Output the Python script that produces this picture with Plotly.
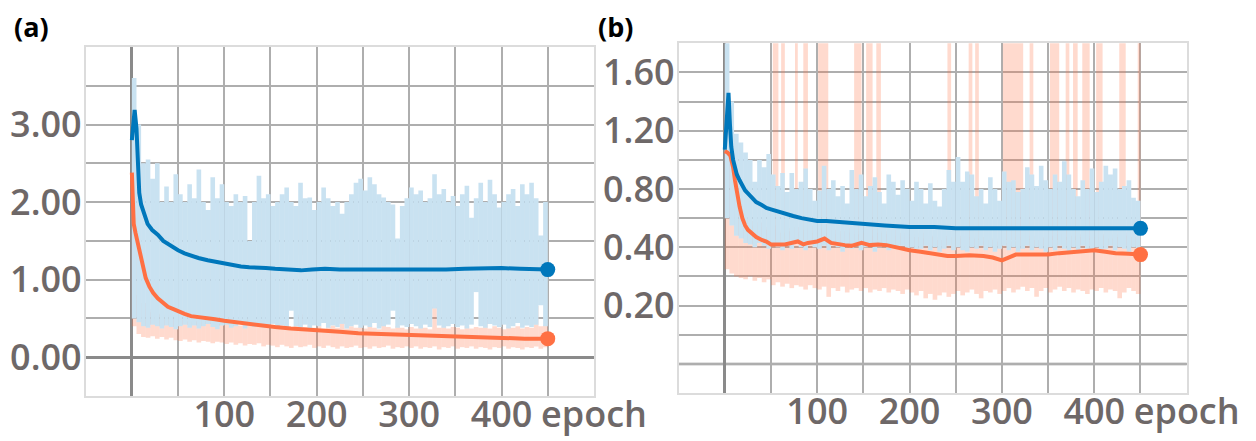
import plotly.graph_objects as go

# ---------------- data ----------------
BIN = 5
raw_epochs = list(range(0, 450, BIN))          # start epoch of each raw-value bin

# panel (a) raw envelopes
blue_a_hi = [3.60,3.00,2.50,2.55,2.30,2.50,2.00,2.20,2.00,2.36,
             2.10,2.00,2.23,2.05,2.42,2.00,1.90,2.32,2.05,2.23,
             2.00,1.95,2.10,2.00,2.08,1.50,2.00,2.34,2.05,2.10,
             1.95,2.00,2.10,2.19,2.00,1.95,2.25,2.05,2.06,1.90,
             2.00,2.19,2.05,1.95,2.00,1.85,2.00,2.10,2.25,2.30,
             2.15,2.32,2.23,2.10,2.06,2.00,1.97,1.53,1.95,2.05,
             2.19,2.10,2.15,2.00,2.05,2.36,2.10,2.17,2.00,2.08,
             1.95,2.10,2.21,1.80,2.05,2.25,2.00,2.29,2.10,1.93,
             2.00,2.10,2.17,1.95,2.23,2.10,2.25,2.05,1.57,2.00]
blue_a_lo = [0.50,0.45,0.40,0.38,0.42,0.40,0.37,0.41,0.39,0.36,
             0.40,0.42,0.38,0.41,0.37,0.40,0.43,0.39,0.36,0.41,
             0.42,0.38,0.40,0.44,0.37,0.41,0.39,0.42,0.38,0.40,
             0.43,0.37,0.41,0.39,0.60,0.40,0.38,0.42,0.37,0.41,
             0.40,0.44,0.38,0.41,0.39,0.43,0.37,0.40,0.42,0.38,
             0.41,0.39,0.44,0.37,0.40,0.42,0.60,0.38,0.41,0.39,
             0.43,0.40,0.37,0.42,0.39,0.63,0.41,0.38,0.40,0.43,
             0.39,0.41,0.37,0.42,0.84,0.40,0.38,0.43,0.41,0.39,
             0.42,0.37,0.40,0.44,0.38,0.41,0.39,0.42,0.67,0.40]
orange_a_hi = [1.80,0.80,0.70,0.62,0.58,0.56,0.55,0.52,0.54,0.50,
               0.48,0.50,0.46,0.47,0.45,0.48,0.44,0.46,0.43,0.45,
               0.44,0.42,0.45,0.41,0.43,0.50,0.42,0.40,0.43,0.41,
               0.40,0.42,0.39,0.41,0.38,0.40,0.55,0.39,0.41,0.38,
               0.40,0.37,0.39,0.41,0.38,0.50,0.37,0.40,0.38,0.39,
               0.37,0.40,0.38,0.36,0.52,0.39,0.37,0.40,0.38,0.36,
               0.39,0.37,0.40,0.38,0.36,0.65,0.38,0.40,0.37,0.39,
               0.38,0.36,0.40,0.37,0.39,0.38,0.48,0.37,0.40,0.38,
               0.36,0.39,0.38,0.40,0.37,0.39,0.38,0.66,0.40,0.42]
orange_a_lo = [0.40,0.30,0.26,0.25,0.27,0.24,0.26,0.23,0.25,0.22,
               0.21,0.23,0.20,0.22,0.19,0.21,0.20,0.18,0.20,0.19,
               0.17,0.19,0.16,0.18,0.15,0.17,0.16,0.18,0.14,0.16,
               0.15,0.13,0.16,0.14,0.12,0.15,0.13,0.14,0.16,0.12,
               0.14,0.12,0.15,0.13,0.11,0.14,0.12,0.13,0.15,0.12,
               0.13,0.11,0.14,0.12,0.13,0.15,0.11,0.13,0.12,0.14,
               0.12,0.14,0.11,0.13,0.12,0.14,0.10,0.13,0.12,0.14,
               0.11,0.13,0.12,0.14,0.11,0.13,0.12,0.10,0.13,0.12,
               0.14,0.11,0.13,0.12,0.10,0.13,0.12,0.14,0.11,0.13]

# panel (a) smoothed curves
blue_a_ep = [0,1.5,3,5,6.5,8,10,13,17,22,28,34,39,45,50,57,64,72,82,90,
             100,110,118,127,136,145,155,168,183,195,209,225,245,260,280,300,320,340,360,385,
             400,420,440,450]
blue_a_val = [2.80,3.10,3.19,2.95,2.30,2.12,1.97,1.85,1.72,1.64,1.58,1.50,1.46,1.42,1.38,1.34,1.31,1.28,1.25,1.23,
              1.21,1.19,1.17,1.16,1.16,1.15,1.14,1.13,1.12,1.13,1.14,1.13,1.13,1.13,1.12,1.13,1.13,1.13,1.14,1.15,
              1.15,1.14,1.13,1.13]
orange_a_ep = [0,1,2,4,6.5,9,12,15,19,23,28,34,39,45,50,57,64,72,82,90,
               100,118,136,155,172,190,209,225,245,270,300,325,350,375,400,425,450]
orange_a_val = [2.38,2.00,1.72,1.60,1.46,1.30,1.16,1.02,0.91,0.83,0.76,0.70,0.65,0.62,0.59,0.56,0.53,0.52,0.50,0.49,
                0.47,0.44,0.41,0.39,0.37,0.36,0.34,0.33,0.31,0.30,0.28,0.27,0.26,0.25,0.24,0.24,0.24]

# panel (b) raw envelopes
blue_b_hi = [1.85,1.40,1.18,1.12,1.05,1.00,0.85,1.00,0.95,1.04,
             0.90,0.82,0.91,0.78,0.91,0.80,0.85,0.94,0.80,0.72,
             0.79,0.96,0.80,0.86,0.75,0.82,0.70,0.93,0.80,0.90,
             0.75,0.82,0.88,0.78,0.70,0.90,0.85,0.76,0.86,0.80,
             0.72,0.85,0.80,0.70,0.84,0.72,0.68,0.80,0.93,0.85,
             1.02,0.85,0.92,0.90,0.75,0.80,0.70,0.88,0.80,0.72,
             0.92,0.85,0.86,0.78,0.80,0.95,0.90,0.82,0.96,0.86,
             0.80,0.90,0.85,0.99,0.90,0.80,0.75,0.86,0.80,0.94,
             0.78,0.85,0.96,0.90,0.94,0.80,0.82,0.86,0.74,0.72]
blue_b_lo = [0.60,0.55,0.48,0.46,0.43,0.42,0.40,0.43,0.41,0.39,
             0.42,0.40,0.38,0.41,0.39,0.43,0.40,0.38,0.42,0.40,
             0.39,0.41,0.38,0.42,0.40,0.37,0.41,0.39,0.42,0.38,
             0.40,0.41,0.37,0.40,0.42,0.38,0.40,0.39,0.41,0.38,
             0.40,0.37,0.39,0.41,0.38,0.40,0.37,0.39,0.41,0.38,
             0.40,0.38,0.37,0.40,0.39,0.41,0.38,0.40,0.37,0.39,
             0.41,0.38,0.40,0.37,0.39,0.41,0.38,0.40,0.39,0.37,
             0.40,0.38,0.41,0.39,0.37,0.40,0.38,0.41,0.39,0.38,
             0.40,0.37,0.39,0.41,0.38,0.40,0.39,0.37,0.40,0.38]
orange_b_hi = [1.10,1.00,0.80,0.65,0.60,0.58,0.55,0.57,0.54,0.52,
               0.55,0.52,0.50,0.53,0.51,0.54,0.50,0.52,0.55,0.50,
               0.53,0.56,0.50,0.52,0.49,0.51,0.50,0.53,0.49,0.51,
               0.50,0.52,0.48,0.50,0.51,0.49,0.52,0.48,0.50,0.47,
               0.49,0.47,0.50,0.46,0.48,0.47,0.45,0.48,0.46,0.47,
               0.46,0.48,0.45,0.47,0.46,0.44,0.47,0.45,0.46,0.44,
               0.43,0.46,0.44,0.47,0.45,0.46,0.48,0.45,0.47,0.46,
               0.48,0.46,0.49,0.47,0.45,0.48,0.47,0.49,0.46,0.48,
               0.47,0.49,0.48,0.46,0.49,0.47,0.48,0.50,0.47,0.46]
orange_b_lo = [0.25,0.22,0.20,0.19,0.18,0.20,0.17,0.19,0.16,0.18,
               0.14,0.16,0.13,0.15,0.12,0.14,0.13,0.11,0.14,0.12,
               0.11,0.13,0.06,0.12,0.10,0.13,0.09,0.11,0.12,0.10,
               0.12,0.09,0.11,0.10,0.12,0.09,0.11,0.10,0.08,0.11,
               0.09,0.07,0.10,0.05,0.08,0.04,0.07,0.09,0.06,0.08,
               0.10,0.07,0.09,0.11,0.08,0.05,0.10,0.09,0.11,0.08,
               0.10,0.12,0.09,0.11,0.13,0.10,0.12,0.06,0.10,0.12,
               0.09,0.11,0.13,0.10,0.12,0.09,0.11,0.10,0.08,0.11,
               0.10,0.12,0.09,0.11,0.10,0.05,0.09,0.12,0.10,0.08]
# tall orange spikes in (b) that run off the top of the chart
spike_start = [52,61,76,85,101,140,153,164,241,264,271,301,330,352,369,377,387,402,427,447]
spike_end   = [58,65,79,90,112,148,160,169,245,268,275,323,334,362,373,382,395,409,434,450]
spike_base = 0.45
spike_top = 2.0

# panel (b) smoothed curves
blue_b_ep = [0,2,4,5.5,7,9,11,13,16,19,22,25,29,34,40,45,50,57,65,74,
             83,92,100,110,119,135,150,173,200,227,250,275,300,325,350,375,400,425,450]
blue_b_val = [1.07,1.30,1.46,1.25,1.09,1.00,0.95,0.90,0.86,0.82,0.79,0.77,0.74,0.71,0.69,0.67,0.66,0.645,0.63,0.615,
              0.60,0.59,0.58,0.58,0.575,0.565,0.56,0.55,0.54,0.54,0.53,0.53,0.53,0.53,0.53,0.53,0.53,0.535,0.53]
orange_b_ep = [0,3,6,9,11,13,16,19,22,25,29,34,40,45,50,57,65,72,79,85,
               90,100,108,115,122,130,137,148,157,166,175,184,192,200,212,223,232,241,250,265,
               280,290,300,308,315,330,350,362,375,387,400,412,423,437,450]
orange_b_val = [1.06,1.05,1.03,0.95,0.86,0.78,0.68,0.60,0.55,0.52,0.50,0.47,0.45,0.44,0.42,0.42,0.42,0.43,0.44,0.42,
                0.43,0.44,0.46,0.43,0.42,0.415,0.41,0.43,0.415,0.42,0.415,0.40,0.39,0.38,0.37,0.36,0.35,0.34,0.34,0.345,
                0.34,0.33,0.31,0.33,0.35,0.35,0.35,0.36,0.365,0.37,0.38,0.37,0.36,0.355,0.35]

x_tickvals = [100, 200, 300, 400, 500]
x_ticktext = ["100", "200", "300", "400", "epoch"]
ya_tickvals = [0, 1, 2, 3]
ya_ticktext = ["0.00", "1.00", "2.00", "3.00"]
yb_tickvals = [0.0, 0.4, 0.8, 1.2, 1.6]
yb_ticktext = ["0.20", "0.40", "0.80", "1.20", "1.60"]
yb_baseline = -0.4

# ---------------- style ----------------
BLUE = "#0077bb"
ORANGE = "#ff7043"
BLUE_RAW = "rgba(0,119,187,0.21)"
ORANGE_RAW = "rgba(255,112,67,0.26)"
GRID = "#aeaeae"
ZERO = "#8a8a8a"
EDGE = "#dcdcdc"
TICKFONT = dict(family="Open Sans", size=36, color="#6e6868", weight=600)

fig = go.Figure()


def band(xa, ya, lo, hi, color):
    fig.add_trace(go.Bar(x=raw_epochs, base=lo, y=[h - l for h, l in zip(hi, lo)],
                         width=BIN, offset=0, marker=dict(color=color, line=dict(width=0)),
                         xaxis=xa, yaxis=ya, showlegend=False, hoverinfo="skip"))


def curve(xa, ya, ep, val, color):
    fig.add_trace(go.Scatter(x=ep, y=val, mode="lines", line=dict(color=color, width=4),
                             xaxis=xa, yaxis=ya, showlegend=False, hoverinfo="skip"))


def dot(xa, ya, ep, val, color):
    fig.add_trace(go.Scatter(x=[ep[-1]], y=[val[-1]], mode="markers",
                             marker=dict(color=color, size=15), xaxis=xa, yaxis=ya,
                             showlegend=False, hoverinfo="skip"))


# panel (a): orange raw, white mask under the blue raw, orange smooth, blue raw, blue smooth
band("x", "y", orange_a_lo, orange_a_hi, ORANGE_RAW)
band("x", "y", blue_a_lo, blue_a_hi, "white")
curve("x", "y", orange_a_ep, orange_a_val, ORANGE)
band("x", "y", blue_a_lo, blue_a_hi, BLUE_RAW)
curve("x", "y", blue_a_ep, blue_a_val, BLUE)
dot("x", "y", blue_a_ep, blue_a_val, BLUE)
dot("x", "y", orange_a_ep, orange_a_val, ORANGE)

# panel (b)
band("x2", "y2", orange_b_lo, orange_b_hi, ORANGE_RAW)
fig.add_trace(go.Bar(x=spike_start, base=spike_base,
                     y=[spike_top - spike_base] * len(spike_start),
                     width=[e - s for s, e in zip(spike_start, spike_end)], offset=0,
                     marker=dict(color=ORANGE_RAW, line=dict(width=0)),
                     xaxis="x2", yaxis="y2", showlegend=False, hoverinfo="skip"))
band("x2", "y2", blue_b_lo, blue_b_hi, "white")
curve("x2", "y2", orange_b_ep, orange_b_val, ORANGE)
band("x2", "y2", blue_b_lo, blue_b_hi, BLUE_RAW)
curve("x2", "y2", blue_b_ep, blue_b_val, BLUE)
dot("x2", "y2", blue_b_ep, blue_b_val, BLUE)
dot("x2", "y2", orange_b_ep, orange_b_val, ORANGE)


def xaxis(domain, anchor):
    return dict(domain=domain, anchor=anchor, range=[-50, 500], tickmode="array",
                tickvals=x_tickvals, ticktext=x_ticktext, showgrid=True, gridcolor=GRID,
                gridwidth=1.5, zeroline=True, zerolinecolor=ZERO, zerolinewidth=2.5,
                minor=dict(tickmode="linear", dtick=50, tick0=0, showgrid=True,
                           gridcolor=GRID, gridwidth=1.5),
                showline=True, linecolor=EDGE, linewidth=1.5, mirror=True, ticks="",
                tickfont=TICKFONT, fixedrange=True, automargin=False,
                ticklabelstandoff=-14)


def yaxis(domain, anchor, rng, tv, tt, dt, zero):
    return dict(domain=domain, anchor=anchor, range=rng, tickmode="array", tickvals=tv,
                ticktext=tt, showgrid=True, gridcolor=GRID, gridwidth=1.5,
                zeroline=zero, zerolinecolor=ZERO, zerolinewidth=2.5,
                minor=dict(tickmode="linear", dtick=dt, tick0=0, showgrid=True,
                           gridcolor=GRID, gridwidth=1.5),
                showline=True, linecolor=EDGE, linewidth=1.5, mirror=True, ticks="",
                tickfont=TICKFONT, fixedrange=True, automargin=False,
                ticklabelstandoff=-5)


LABELFONT = dict(family="Open Sans", size=27, color="black", weight="bold")
fig.update_layout(
    width=1256, height=441, margin=dict(l=0, r=0, t=0, b=0, autoexpand=False),
    paper_bgcolor="white", plot_bgcolor="white", barmode="overlay",
    xaxis=xaxis([0.0682, 0.4729], "y"),
    yaxis=yaxis([0.102, 0.8934], "x", [-0.5, 4.0], ya_tickvals, ya_ticktext, 0.5, True),
    xaxis2=xaxis([0.5403, 0.9448], "y2"),
    yaxis2=yaxis([0.1088, 0.9018], "x2", [-0.6, 1.8], yb_tickvals, yb_ticktext, 0.2, False),
    shapes=[dict(type="line", xref="x2 domain", yref="y2", x0=0, x1=1,
                 y0=yb_baseline, y1=yb_baseline, line=dict(color=ZERO, width=2.5),
                 layer="below")],
    annotations=[
        dict(text="(a)", x=0.0247, y=0.941, xref="paper", yref="paper", showarrow=False,
             xanchor="center", yanchor="middle", font=LABELFONT),
        dict(text="(b)", x=0.4904, y=0.941, xref="paper", yref="paper", showarrow=False,
             xanchor="center", yanchor="middle", font=LABELFONT),
    ],
)

fig.write_html("out.html", config={"displayModeBar": False},
               post_script="document.body.style.margin='0px';")
